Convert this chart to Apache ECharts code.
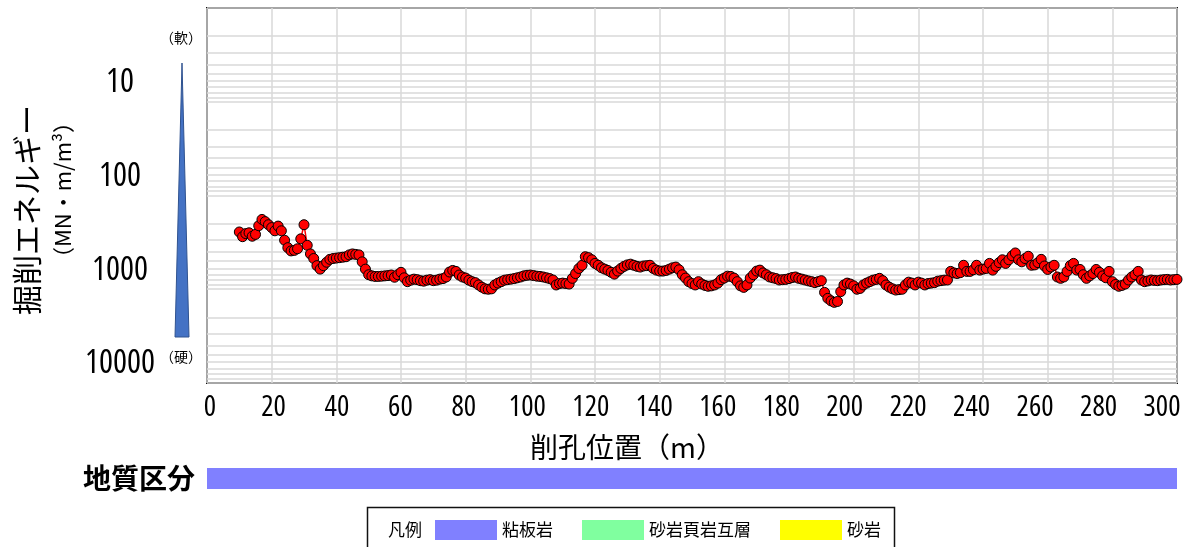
<!DOCTYPE html>
<html><head><meta charset="utf-8">
<script src="https://cdn.jsdelivr.net/npm/echarts@6/dist/echarts.min.js"></script>
<style>html,body{margin:0;padding:0;background:#fff}#c{width:1191px;height:547px}</style>
</head><body><div id="c"></div>
<script>
// ---- data ----
const depthStart = 10;   // m, first sample
const depthStep = 1;     // m, sample spacing
const energy = [
 245,275,255,250,272,260,210,180,190,205,      // 10-19
 220,238,212,238,300,360,390,385,370,290,      // 20-29
 205,340,420,470,560,610,560,515,480,470,      // 30-39
 465,460,455,450,430,420,425,430,510,610,      // 40-49
 700,720,730,730,725,720,715,705,745,700,      // 50-59
 660,755,830,800,780,790,810,820,800,790,      // 60-69
 810,800,780,770,740,655,630,645,705,740,      // 70-79
 760,800,830,850,900,950,990,1000,990,900,     // 80-89
 860,830,800,790,780,770,755,740,720,710,      // 90-99
 705,715,725,730,740,755,770,797,900,870,      // 100-109
 860,870,880,765,680,600,555,450,460,485,      // 110-119
 530,555,590,610,630,660,690,640,600,570,      // 120-129
 550,540,555,570,580,565,560,555,600,625,      // 130-139
 640,640,630,610,590,580,620,700,760,830,      // 140-149
 870,900,830,880,910,930,920,900,860,790,      // 150-159
 760,725,730,760,830,920,955,900,760,700,      // 160-169
 640,625,670,700,740,755,770,797,790,785,      // 170-179
 770,750,740,765,780,797,815,830,850,830,      // 180-189
 810,1080,1250,1330,1380,1350,1060,900,860,880,// 190-199
 920,1000,980,900,860,830,800,785,765,810,     // 200-209
 900,950,990,1020,1010,1000,900,840,860,900,   // 210-219
 840,860,900,870,860,850,820,810,800,797,      // 220-229
 645,670,680,665,555,645,645,620,555,625,      // 230-239
 610,600,530,625,570,520,485,530,485,440,      // 240-249
 410,485,510,470,445,555,550,520,480,565,      // 250-259
 615,580,555,740,765,740,645,560,530,625,      // 260-269
 615,700,765,720,680,615,660,720,755,645,      // 270-279
 830,890,930,910,880,797,740,700,645,797,      // 280-289
 830,815,797,805,810,797,790,785,797,790,      // 290-299
 785                                           // 300
];
const xMin = 0, xMax = 300, xInterval = 20;
const xTickLabels = [0, 20, 40, 60, 80, 100, 120, 140, 160, 180, 200, 220, 240, 260, 280, 300];
const yMin = 1, yMax = 10000;
const yTickLabels = ['10', '100', '1000', '10000'];
const geoRowLabel = ['地質区分'];
const geoNames = ['粘板岩', '砂岩頁岩互層', '砂岩'];
const geoColors = ['#8080FF', '#80FF9F', '#FFFF00'];
const geoLengths = [300, 0, 0];
const yTitle = '掘削エネルギー';
const yUnit = '（MN・m/m³）';
const xTitle = '削孔位置（m）';
const hardLabels = ['（軟）', '（硬）'];
const legendTitle = '凡例';

// minor log gridlines (2..9 x 10^k)
const minorVals = [];
for (let d = yMin; d < yMax; d *= 10) for (let k = 2; k <= 9; k++) minorVals.push(d * k);

const NUMFONT = "'Open Sans','DejaVu Sans Condensed',sans-serif";
const JP = "'Noto Sans CJK JP',sans-serif";

const chart = echarts.init(document.getElementById('c'), null, {renderer: 'canvas'});
const pts = energy.map((v, i) => [depthStart + i * depthStep, v]);

const geoSeries = geoNames.map((n, i) => ({
  type: 'bar', name: n, xAxisIndex: 1, yAxisIndex: 1, stack: 'geo',
  data: [geoLengths[i]], barWidth: '100%', itemStyle: {color: geoColors[i]}, silent: true
}));

chart.setOption({
  animation: false,
  grid: [
    {left: 207, right: 14, top: 8, height: 375, show: true, borderColor: '#111', borderWidth: 2, backgroundColor: '#fff'},
    {left: 207, right: 14, top: 468, height: 21}
  ],
  xAxis: [
    {type: 'value', gridIndex: 0, min: xMin, max: xMax, interval: xInterval,
     axisLine: {show: false}, axisTick: {show: false}, axisLabel: {show: false},
     splitLine: {lineStyle: {color: '#D9D9D9', width: 1.5}},
     name: xTitle, nameLocation: 'middle', nameGap: 50,
     nameTextStyle: {fontSize: 28, color: '#000', fontFamily: JP, padding: [0, 130, 0, 0]}},
    {type: 'value', gridIndex: 1, min: xMin, max: xMax, show: false},
    {type: 'value', gridIndex: 0, min: -0.945, max: 304.72, position: 'bottom',
     axisLine: {show: false}, axisTick: {show: false}, splitLine: {show: false},
     axisLabel: {customValues: xTickLabels, fontSize: 29, fontStyle: 'condensed', fontFamily: NUMFONT,
       color: '#000', margin: 10}}
  ],
  yAxis: [
    {type: 'log', logBase: 10, gridIndex: 0, min: yMin, max: yMax, inverse: true,
     axisLine: {show: false}, axisTick: {show: false},
     axisLabel: {showMinLabel: false, fontSize: 33, fontStyle: 'condensed', fontFamily: NUMFONT, color: '#000',
       align: 'center', margin: 87, verticalAlign: 'bottom', lineHeight: 38,
       formatter: v => { const s = String(Math.round(v)); return yTickLabels.includes(s) ? s : ''; }},
     splitLine: {lineStyle: {color: '#D9D9D9', width: 1.5}}},
    {type: 'category', gridIndex: 1, data: geoRowLabel,
     axisLine: {show: false}, axisTick: {show: false},
     axisLabel: {fontSize: 28, fontWeight: 'bold', fontFamily: JP, color: '#000', margin: 12}}
  ],
  legend: {
    data: geoNames, left: 435, top: 520, padding: 0, itemWidth: 62, itemHeight: 20, itemGap: 29,
    icon: 'rect', selectedMode: false,
    textStyle: {fontSize: 17, color: '#000', fontFamily: JP}
  },
  graphic: [
    {type: 'text', x: 27, y: 210, rotation: Math.PI / 2,
     style: {text: yTitle, font: "30px 'Noto Sans CJK JP'", fill: '#000', textAlign: 'center', textVerticalAlign: 'middle'}},
    {type: 'text', x: 63, y: 190, rotation: Math.PI / 2,
     style: {text: yUnit, font: "22px 'Noto Sans CJK JP'", fill: '#000', textAlign: 'center', textVerticalAlign: 'middle'}},
    {type: 'polygon', shape: {points: [[182, 63], [175, 337], [189, 337]]},
     style: {fill: '#4472C4', stroke: '#2F528F', lineWidth: 1}},
    {type: 'text', x: 181, y: 38,
     style: {text: hardLabels[0], font: "14px 'Noto Sans CJK JP'", fill: '#000', textAlign: 'center', textVerticalAlign: 'middle'}},
    {type: 'text', x: 181, y: 357,
     style: {text: hardLabels[1], font: "14px 'Noto Sans CJK JP'", fill: '#000', textAlign: 'center', textVerticalAlign: 'middle'}},
    {type: 'rect', shape: {x: 367.5, y: 507.5, width: 527, height: 60},
     style: {fill: 'none', stroke: '#111', lineWidth: 1.5}},
    {type: 'text', x: 388, y: 530,
     style: {text: legendTitle, font: "17px 'Noto Sans CJK JP'", fill: '#000', textAlign: 'left', textVerticalAlign: 'middle'}}
  ],
  series: [
    {type: 'line', name: 'minor-grid', xAxisIndex: 0, yAxisIndex: 0, data: [], silent: true, z: 1,
     markLine: {silent: true, symbol: ['none', 'none'], label: {show: false},
       lineStyle: {color: '#D9D9D9', width: 1.5, type: 'solid'},
       data: minorVals.map(v => ({yAxis: v}))}},
    {type: 'line', name: yTitle, xAxisIndex: 0, yAxisIndex: 0, data: pts, z: 5,
     symbol: 'circle', symbolSize: 10, showAllSymbol: true,
     itemStyle: {color: '#FF0000', borderColor: '#000', borderWidth: 1},
     lineStyle: {color: '#FF0000', width: 1.5}},
    ...geoSeries
  ]
});
</script></body></html>
